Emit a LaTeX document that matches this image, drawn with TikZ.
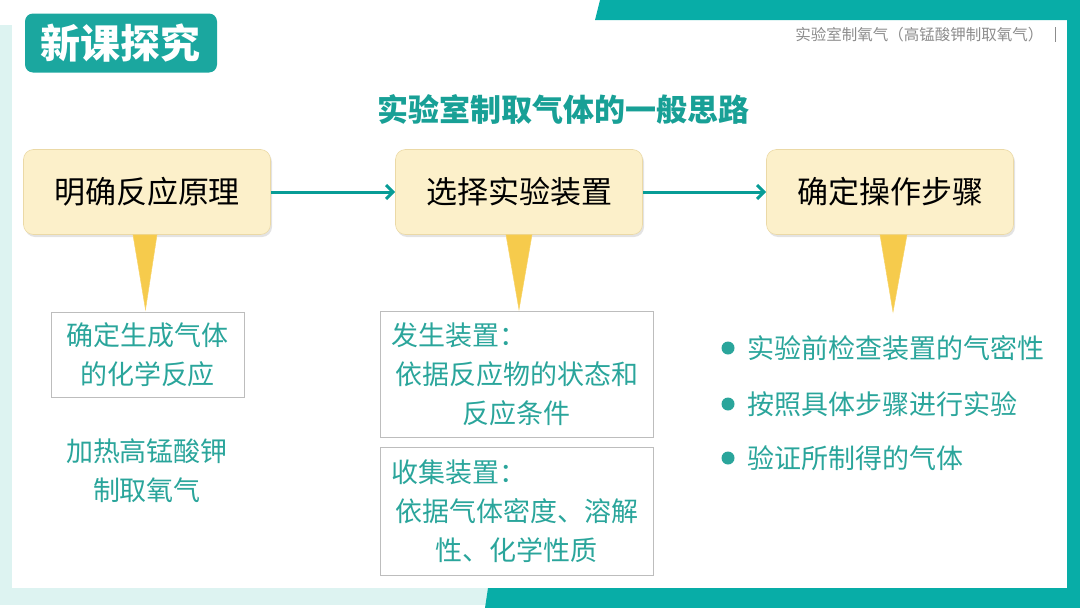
\documentclass[tikz,border=0pt]{standalone}
\usepackage{fontspec}
\setmainfont{Noto Sans CJK SC}
\usepackage{tikz}
\usetikzlibrary{arrows.meta,positioning,calc,shadows}
\usepackage{xcolor}
\definecolor{deepteal}{HTML}{08ADA7}
\definecolor{lightteal}{HTML}{DDF3F1}
\definecolor{titleteal}{HTML}{1BA79F}
\definecolor{textteal}{HTML}{2AA59B}
\definecolor{headteal}{HTML}{18A096}
\definecolor{creambox}{HTML}{FCF0CA}
\definecolor{creamedge}{HTML}{EBD9A6}
\definecolor{pointgold}{HTML}{F6CB4C}
\definecolor{boxgray}{HTML}{BDBDBD}
\definecolor{notegray}{HTML}{8C8C8C}

\begin{document}
\begin{tikzpicture}[
    x=1pt, y=-1pt,
    stepbox/.style={
      draw=creamedge, line width=0.6pt, rounded corners=10pt, fill=creambox,
      minimum width=247pt, minimum height=85pt, text=black,
      font=\fontsize{31}{36}\selectfont,
      drop shadow={shadow xshift=1.5pt, shadow yshift=-2.5pt, opacity=0.22}
    },
    notebox/.style={
      draw=boxgray, line width=0.8pt, text=textteal, align=center,
      font=\fontsize{27}{39}\selectfont, inner sep=0pt
    },
    plaintext/.style={text=textteal, align=center, font=\fontsize{27}{39}\selectfont},
    flowarr/.style={-{Straight Barb[length=7pt,width=14pt]}, line width=3pt, deepteal!90!black},
    pointer/.style={fill=pointgold, draw=pointgold!85!white, line width=0.5pt},
  ]
  \useasboundingbox (0,0) rectangle (1080,608);

  % =================== Slide frame ===================
  \fill[lightteal] (0,25) rectangle (12,605);
  \fill[lightteal] (0,588) rectangle (488,605);
  \fill[deepteal] (600,0) -- (1080,0) -- (1080,608) -- (485,608) -- (488,588)
    -- (1067,588) -- (1067,20) -- (595,20) -- cycle;

  % =================== Header ===================
  \node[fill=titleteal, rounded corners=8pt, minimum width=192pt, minimum height=59pt,
    text=white, font=\fontsize{40}{42}\selectfont\bfseries] (tag) at (121,43) {新课探究};

  \node[anchor=east, text=notegray, font=\fontsize{15.5}{18}\selectfont] (note) at (1047,35)
    {实验室制氧气（高锰酸钾制取氧气）};
  \draw[notegray, line width=0.6pt] (1055,27) -- (1055,42);

  \node[text=headteal, font=\fontsize{31}{36}\selectfont\bfseries] (head) at (563,110)
    {实验室制取气体的一般思路};

  % =================== Steps ===================
  \node[stepbox] (p1) at (147,192) {明确反应原理};
  \node[stepbox] (p2) at (519,192) {选择实验装置};
  \node[stepbox] (p3) at (890,192) {确定操作步骤};

  \draw[flowarr] (p1) -- (p2);
  \draw[flowarr] (p2) -- (p3);

  % =================== Column 1 ===================
  \node[notebox, minimum width=193pt, minimum height=85pt] (r1) at (147.5,354.5)
    {确定生成气体\\的化学反应};
  \node[plaintext] (r1b) at (147,471) {加热高锰酸钾\\制取氧气};

  % =================== Column 2 ===================
  \node[notebox, minimum width=273pt, minimum height=126pt] (r2) at (516.5,374)
    {\makebox[250pt][l]{发生装置：}\\依据反应物的状态和\\反应条件};
  \node[notebox, minimum width=273pt, minimum height=128pt] (r3) at (516.5,511)
    {\makebox[250pt][l]{收集装置：}\\依据气体密度、溶解\\性、化学性质};

  % =================== Column 3 ===================
  \coordinate (t3) at (893,312);
  \node[plaintext, anchor=west] (b1) at (744,348) {实验前检查装置的气密性};
  \node[plaintext, anchor=west] (b2) at (744,404) {按照具体步骤进行实验};
  \node[plaintext, anchor=west] (b3) at (744,458) {验证所制得的气体};
  \fill[textteal] ($(b1.west)+(-16,0)$) circle (6.5pt);
  \fill[textteal] ($(b2.west)+(-16,0)$) circle (6.5pt);
  \fill[textteal] ($(b3.west)+(-16,0)$) circle (6.5pt);

  % =================== Pointers ===================
  \draw[pointer] ($(p1.south)+(-14,0)$) -- ($(p1.south)+(10,0)$) -- ($(r1.north)+(-2,-2)$) -- cycle;
  \draw[pointer] ($(p2.south)+(-13,0)$) -- ($(p2.south)+(13,0)$) -- ($(r2.north)+(2.5,-1)$) -- cycle;
  \draw[pointer] ($(p3.south)+(-10,0)$) -- ($(p3.south)+(17,0)$) -- (t3) -- cycle;

\end{tikzpicture}
\end{document}
